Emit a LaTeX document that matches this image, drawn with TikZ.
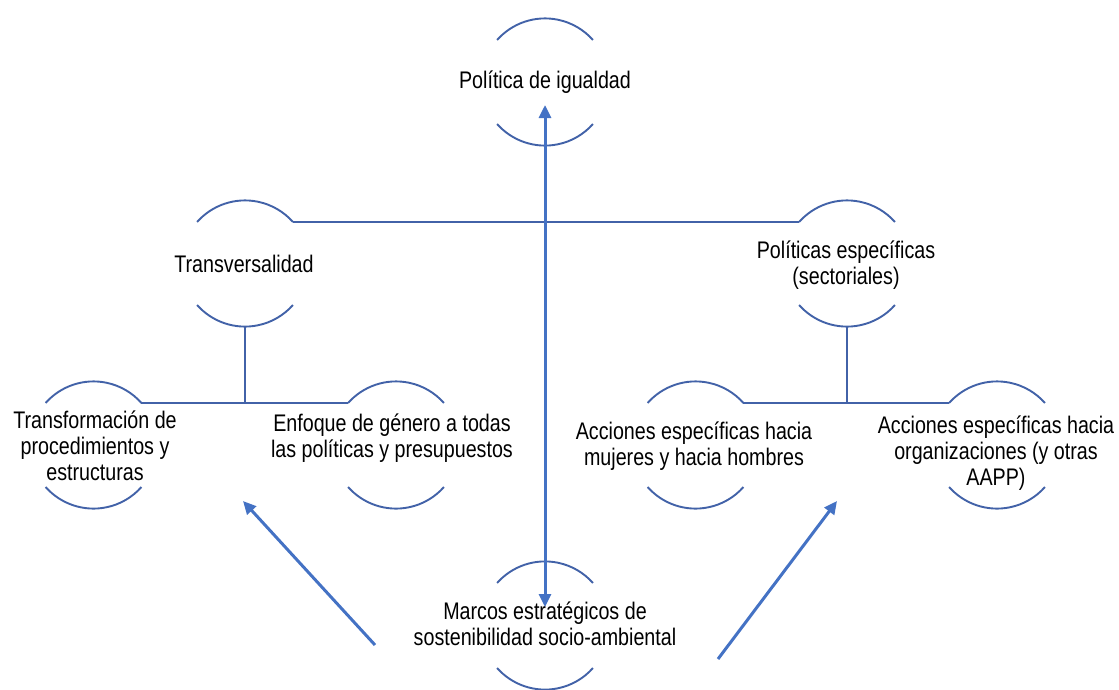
\documentclass[tikz,border=0pt]{standalone}
\usepackage{fontspec}
\setmainfont{Liberation Sans}[FakeStretch=0.82]
\usetikzlibrary{arrows.meta}
\definecolor{arcblue}{RGB}{66,98,168}
\definecolor{arrblue}{RGB}{68,114,196}
\tikzset{
  arcline/.style={draw=arcblue,line width=1.9pt},
  conn/.style={draw=arcblue,line width=1.9pt},
  arr/.style={draw=arrblue,line width=3pt,-{Triangle[length=13pt,width=12pt]}},
  dblarr/.style={draw=arrblue,line width=3pt,{Triangle[length=13pt,width=12pt]}-{Triangle[length=13pt,width=12pt]}},
  lbl/.style={align=center,font=\fontsize{24}{26}\selectfont,text=black,inner sep=0pt}
}
\newcommand\ringarcs[4]{%
  \draw[arcline] ({#2-47.9},{-#3}) arc[start angle=138.5,end angle=41.5,radius=64pt];
  \draw[arcline] ({#2-47.9},{-#4}) arc[start angle=221.5,end angle=318.5,radius=64pt];
  \coordinate (#1-tl) at ({#2-47.9},{-#3});
  \coordinate (#1-tr) at ({#2+47.9},{-#3});
  \coordinate (#1-b) at ({#2},{-#4-21.6});
}
\begin{document}
\begin{tikzpicture}[x=1pt,y=1pt]
\useasboundingbox (0,0) rectangle (1119,-689);
% labels
\node[lbl] (n1) at (545,-82) {Política de igualdad};
\node[lbl] (n2) at (244,-264) {Transversalidad};
\node[lbl] (n3) at (846,-265) {Políticas específicas\\(sectoriales)};
\node[lbl] (n4) at (95,-446) {Transformación de\\procedimientos y\\estructuras};
\node[lbl] (n5) at (392,-438) {Enfoque de género a todas\\las políticas y presupuestos};
\node[lbl] (n6) at (694,-446) {Acciones específicas hacia\\mujeres y hacia hombres};
\node[lbl] (n7) at (996,-453) {Acciones específicas hacia\\organizaciones (y otras\\AAPP)};
\node[lbl] (n8) at (545,-624) {Marcos estratégicos de\\sostenibilidad socio-ambiental};
% arcs
\ringarcs{a1}{545}{40}{124}
\ringarcs{a2}{245}{222}{305}
\ringarcs{a3}{847}{222}{305}
\ringarcs{a4}{93.5}{403}{487}
\ringarcs{a5}{396}{403}{487}
\ringarcs{a6}{695.5}{403}{487}
\ringarcs{a7}{997}{403}{487}
\ringarcs{a8}{545}{583}{668}
% tree connectors
\draw[conn] (a2-tr) -- (a3-tl);
\draw[conn] (a2-b) -- (a2-b |- a4-tr);
\draw[conn] (a4-tr) -- (a5-tl);
\draw[conn] (a3-b) -- (a3-b |- a6-tr);
\draw[conn] (a6-tr) -- (a7-tl);
% arrows
\coordinate (t1) at (545,-105);
\coordinate (t8) at (545,-607);
\draw[dblarr] (t1) -- (t8);
\coordinate (sL) at (375,-645);
\coordinate (tL) at (243,-501);
\coordinate (sR) at (718,-659);
\coordinate (tR) at (837,-501);
\draw[arr] (sL) -- (tL);
\draw[arr] (sR) -- (tR);
\end{tikzpicture}
\end{document}
